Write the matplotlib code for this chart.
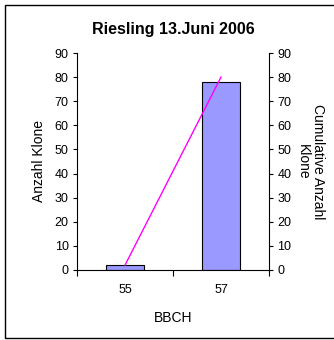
import matplotlib
matplotlib.use('Agg')
import matplotlib.pyplot as plt
from matplotlib.patches import Rectangle

plt.rcParams['font.family'] = ['Liberation Sans', 'DejaVu Sans']

# data
categories = ['55', '57']
counts = [2, 78]
cumulative = [2, 80]

fig = plt.figure(figsize=(3.34, 3.40), dpi=100)
ax = fig.add_axes([77 / 334, 1 - 270 / 340, 192 / 334, 217 / 340])

x = list(range(len(categories)))
ax.bar(x, counts, width=0.4, color='#9999ff', edgecolor='black', linewidth=0.8, zorder=2)
ax.set_xlim(-0.5, 1.5)
ax.set_ylim(0, 90)
ax.set_yticks(range(0, 91, 10))
ax.set_xticks(x)
ax.set_xticklabels(categories)
ax.tick_params(axis='x', length=0, pad=10, labelsize=9)
ax.set_xticks([-0.5, 0.5, 1.5], minor=True)
ax.tick_params(axis='x', which='minor', length=4, direction='out', width=0.8)
ax.tick_params(axis='y', length=3, direction='out', labelsize=9, width=0.8, pad=3)
ax.spines['top'].set_visible(False)
ax.spines['right'].set_visible(False)
ax.set_xlabel('BBCH', fontsize=10, labelpad=11)
ax.set_ylabel('Anzahl Klone', fontsize=10, labelpad=6)
ax.set_title('Riesling 13.Juni 2006', fontsize=11.5, fontweight='bold', pad=14)

ax2 = ax.twinx()
ax2.plot(x, cumulative, color='#ff00ff', linewidth=1, zorder=3)
ax2.set_ylim(0, 90)
ax2.set_yticks(range(0, 91, 10))
ax2.tick_params(axis='y', length=3, direction='out', labelsize=9, width=0.8, pad=3)
ax2.spines['top'].set_visible(False)
ax2.spines['left'].set_visible(False)
ax2.spines['bottom'].set_visible(False)
ax2.set_ylabel('Cumulative Anzahl\nKlone', fontsize=10, rotation=270, labelpad=24,
               linespacing=1.1)

# outer frame (right edge runs off the image)
fig.patches.append(Rectangle((5 / 334, 2 / 340), 340 / 334, 333 / 340, transform=fig.transFigure,
                             fill=False, edgecolor='black', linewidth=1))

plt.savefig('out.png', dpi=100)
